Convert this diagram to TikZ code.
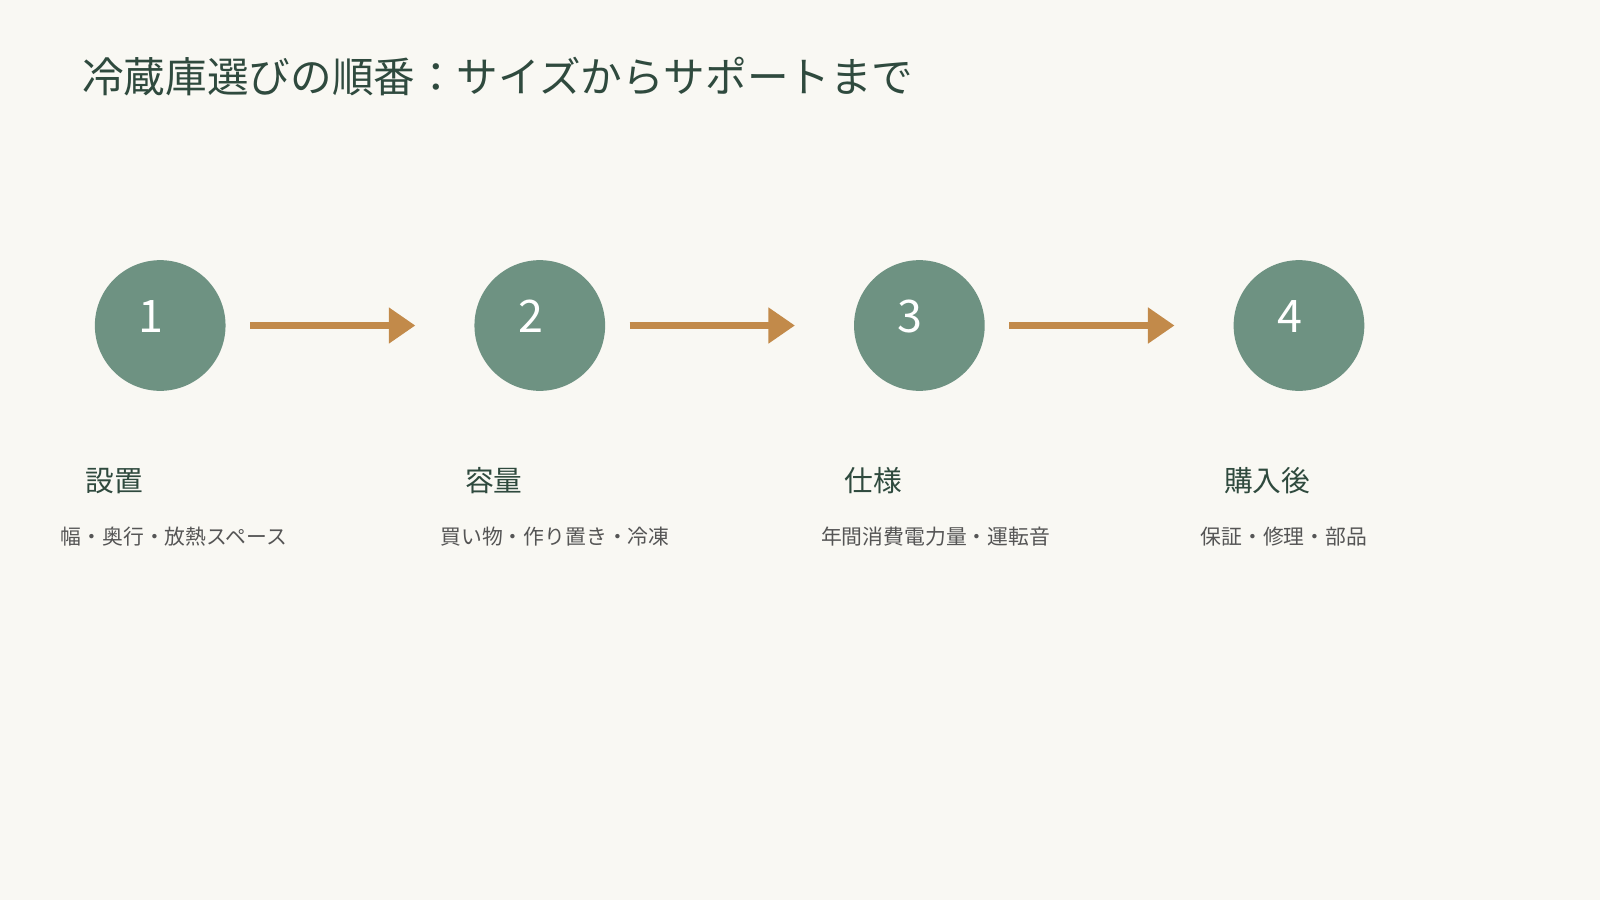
\documentclass[tikz,border=0pt]{standalone}
\usepackage{fontspec}
\setmainfont{Noto Sans CJK JP}
\usetikzlibrary{arrows.meta,positioning}
\definecolor{bgcream}{HTML}{F9F8F3}
\definecolor{stepgreen}{HTML}{6E9282}
\definecolor{arrowbrown}{HTML}{C28A4A}
\definecolor{titlegreen}{HTML}{2F4A3E}
\definecolor{subgray}{HTML}{555555}

\begin{document}
\begin{tikzpicture}[x=0.01cm, y=-0.01cm, every node/.style={
    inner sep=0pt,
    anchor=west
}]
    \fill[bgcream] (0,0) rectangle (1568,882);
    \useasboundingbox (0,0) rectangle (1568,882);
    \tikzset{
        stepdot/.style={circle, fill=stepgreen, minimum size=1.28cm, anchor=center},
        num/.style={text=white, font=\fontsize{12.5}{14}\selectfont, anchor=center},
        head/.style={text=titlegreen, font=\fontsize{8}{10}\selectfont},
        sub/.style={text=subgray, font=\fontsize{5.8}{7}\selectfont},
        flow/.style={-{Triangle[length=0.26cm, width=0.34cm]}, arrowbrown, line width=0.06cm}
    }
    \node (title) [text=titlegreen, font=\fontsize{11.6}{14}\selectfont] at (80,75)
    {
        冷蔵庫選びの順番：サイズからサポートまで
    };
    \foreach \i/\x/\h/\s/\sx in {
        1/157/設置/幅・奥行・放熱スペース/59,
        2/529/容量/買い物・作り置き・冷凍/431,
        3/901/仕様/年間消費電力量・運転音/804,
        4/1273/購入後/保証・修理・部品/1176}
    {
        \node (step_\i) [stepdot] at (\x,319) {};
        \node (num_\i) [num] at (\x-9,310) {\i};
        \node (head_\i) [head] at (\x-74,471) {\h};
        \node (sub_\i) [sub] at (\sx,526) {\s};
        \coordinate (out_\i) at (\x+88,319);
        \coordinate (in_\i) at (\x-122,319);
    }
    \draw[flow] (out_1) to (in_2);
    \draw[flow] (out_2) to (in_3);
    \draw[flow] (out_3) to (in_4);
\end{tikzpicture}
\end{document}
